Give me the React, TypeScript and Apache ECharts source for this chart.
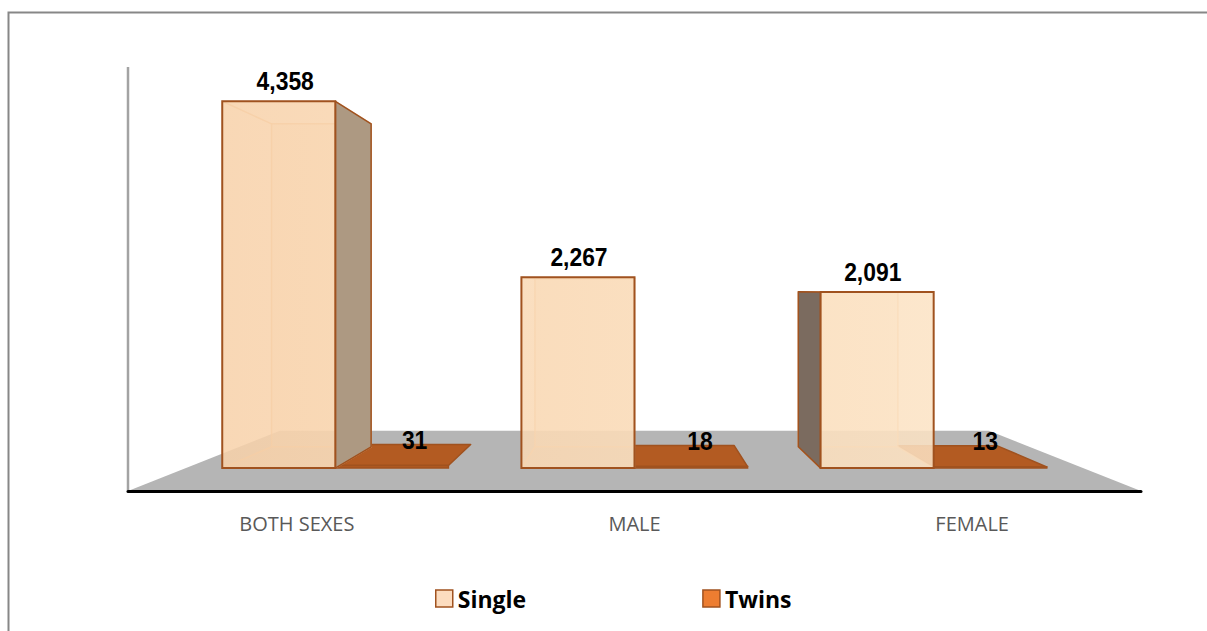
import React, { useEffect, useRef } from "react";
import * as echarts from "echarts";

const categories = ["BOTH SEXES", "MALE", "FEMALE"];
const singleValues = [4358, 2267, 2091];
const twinsValues = [31, 18, 13];
const seriesNames = ["Single", "Twins"];

// perspective constants (layout only)
const S_FRONT = 0.886;
const S_BACK = 0.78;
const S_FLOOR_BACK = 0.7;
const EYE_DROP = 201;
const BAR_FRAC = 0.378;

const OUTER = "#a0521f";
const INNER = "rgba(238,180,128,0.75)";

function makeBox(side: number, isTwins: boolean) {
  return (params: any, api: any) => {
    const cs = params.coordSys;
    const vx = cs.x + cs.width / 2;
    const vy = cs.y + cs.height - EYE_DROP;
    const ci = api.value(0);
    const val = api.value(1);
    const base = api.coord([ci, 0]);
    const top = api.coord([ci, val]);
    const band = api.size([1, 0])[0];
    const w = band * BAR_FRAC;
    const x0 = side < 0 ? base[0] - w : base[0];
    const x1 = x0 + w;
    const yb = base[1];
    const yt = top[1];
    const P = (x: number, y: number, s: number) => [vx + s * (x - vx), vy + s * (y - vy)];
    const f = [P(x0, yt, S_FRONT), P(x1, yt, S_FRONT), P(x1, yb, S_FRONT), P(x0, yb, S_FRONT)];
    const b = [P(x0, yt, S_BACK), P(x1, yt, S_BACK), P(x1, yb, S_BACK), P(x0, yb, S_BACK)];
    const children: any[] = [];
    const label = Number(val).toLocaleString("en-US");
    const labelFont = "bold 26px 'Liberation Sans', Arial, sans-serif";
    if (isTwins) {
      const TW = "#b35b22";
      children.push({
        type: "polygon",
        shape: { points: [f[0], f[1], b[1], b[0]] },
        style: { fill: TW, stroke: OUTER, lineWidth: 1.5, lineJoin: "round" },
      });
      children.push({
        type: "polygon",
        shape: { points: f },
        style: { fill: TW, stroke: OUTER, lineWidth: 1.5 },
      });
      const lx = P((x0 + x1) / 2, 0, 0.845)[0] + 11.5;
      children.push({
        type: "text",
        x: lx,
        y: f[0][1] - 13,
        scaleX: 0.88,
        style: {
          text: label,
          x: 0,
          y: 0,
          align: "center",
          verticalAlign: "bottom",
          fill: "#000",
          font: labelFont,
        },
      });
    } else {
      children.push({
        type: "polygon",
        shape: { points: b },
        style: { fill: "rgba(250,214,176,0.3)", stroke: INNER, lineWidth: 1.5 },
      });
      children.push({
        type: "polygon",
        shape: { points: [f[3], f[2], b[2], b[3]] },
        style: { fill: "rgba(240,196,150,0.25)" },
      });
      for (let i = 0; i < 4; i++) {
        children.push({
          type: "line",
          shape: { x1: f[i][0], y1: f[i][1], x2: b[i][0], y2: b[i][1] },
          style: { stroke: INNER, lineWidth: 1.5 },
        });
      }
      if (x1 < vx - 1) {
        children.push({
          type: "polygon",
          shape: { points: [f[1], b[1], b[2], f[2]] },
          style: { fill: "#ad9982", stroke: OUTER, lineWidth: 1.5, lineJoin: "round" },
        });
      }
      if (x0 > vx + 1) {
        children.push({
          type: "polygon",
          shape: { points: [b[0], f[0], f[3], b[3]] },
          style: { fill: "#7b6b5f", stroke: OUTER, lineWidth: 1.5, lineJoin: "round" },
        });
      }
      children.push({
        type: "polygon",
        shape: { points: f },
        style: {
          fill: {
            type: "linear",
            x: cs.x,
            y: 0,
            x2: cs.x + cs.width,
            y2: 0,
            global: true,
            colorStops: [
              { offset: 0, color: "rgba(247,207,166,0.86)" },
              { offset: 1, color: "rgba(253,232,204,0.86)" },
            ],
          },
          stroke: OUTER,
          lineWidth: 2,
        },
      });
      const lx = P((x0 + x1) / 2, 0, 0.87)[0];
      children.push({
        type: "text",
        x: lx,
        y: Math.min(f[0][1], b[0][1]) - 7,
        scaleX: 0.88,
        style: {
          text: label,
          x: 0,
          y: 0,
          align: "center",
          verticalAlign: "bottom",
          fill: "#000",
          font: labelFont,
        },
      });
    }
    return { type: "group", children };
  };
}

function renderFloor(params: any, api: any) {
  const cs = params.coordSys;
  const vx = cs.x + cs.width / 2;
  const bottom = cs.y + cs.height;
  const vy = bottom - EYE_DROP;
  const P = (x: number, y: number, s: number) => [vx + s * (x - vx), vy + s * (y - vy)];
  const left = cs.x;
  const right = cs.x + cs.width;
  return {
    type: "group",
    children: [
      {
        type: "polygon",
        shape: {
          points: [
            [left, bottom],
            [right, bottom],
            P(right, bottom, S_FLOOR_BACK),
            P(left, bottom, S_FLOOR_BACK),
          ],
        },
        style: { fill: "#b5b5b5" },
      },
      {
        type: "line",
        shape: { x1: left, y1: bottom - 424, x2: left, y2: bottom },
        style: { stroke: "#a3a3a3", lineWidth: 2.5 },
      },
    ],
  };
}

export default function App() {
  const ref = useRef<HTMLDivElement>(null);
  useEffect(() => {
    if (!ref.current) return;
    const chart = echarts.init(ref.current, null, { renderer: "svg" });
    chart.setOption({
      animation: false,
      backgroundColor: "#fff",
      graphic: [
        {
          type: "rect",
          left: 6,
          top: 10,
          shape: { width: 1220, height: 640 },
          style: { fill: "none", stroke: "#878787", lineWidth: 2 },
          silent: true,
        },
      ],
      grid: { left: 128, right: 66, top: 16, bottom: 140 },
      xAxis: {
        type: "category",
        data: categories,
        z: 10,
        axisLine: { lineStyle: { color: "#000", width: 3 } },
        axisTick: { show: false },
        axisLabel: {
          margin: 22,
          fontFamily: "'Open Sans', sans-serif",
          fontSize: 20,
          color: "#595959",
        },
        splitLine: { show: false },
      },
      yAxis: {
        type: "value",
        min: 0,
        max: 5000,
        show: false,
      },
      legend: {
        top: 582,
        left: 430,
        itemWidth: 17,
        itemHeight: 17,
        itemGap: 176,
        textStyle: {
          fontFamily: "'Open Sans', sans-serif",
          fontWeight: "bold",
          fontSize: 23,
          color: "#000",
        },
        data: [
          {
            name: seriesNames[0],
            icon: "rect",
            itemStyle: { color: "#fcdcbf", borderColor: OUTER, borderWidth: 1.5 },
          },
          {
            name: seriesNames[1],
            icon: "rect",
            itemStyle: { color: "#ed7d31", borderColor: OUTER, borderWidth: 1.5 },
          },
        ],
      },
      series: [
        {
          type: "custom",
          name: "floor",
          z: 1,
          silent: true,
          renderItem: renderFloor,
          data: [[0, 0]],
          encode: { x: 0, y: 1 },
        },
        {
          type: "custom",
          name: seriesNames[1],
          z: 2,
          itemStyle: { color: "#ed7d31" },
          renderItem: makeBox(1, true),
          data: twinsValues.map((v, i) => [i, v]),
          encode: { x: 0, y: 1 },
        },
        {
          type: "custom",
          name: seriesNames[0],
          z: 3,
          itemStyle: { color: "#fcdcbf" },
          renderItem: makeBox(-1, false),
          data: singleValues.map((v, i) => [i, v]),
          encode: { x: 0, y: 1 },
        },
      ],
    });
    return () => chart.dispose();
  }, []);
  return (
    <div
      ref={ref}
      style={{ position: "fixed", left: 0, top: 0, width: 1207, height: 631 }}
    />
  );
}
